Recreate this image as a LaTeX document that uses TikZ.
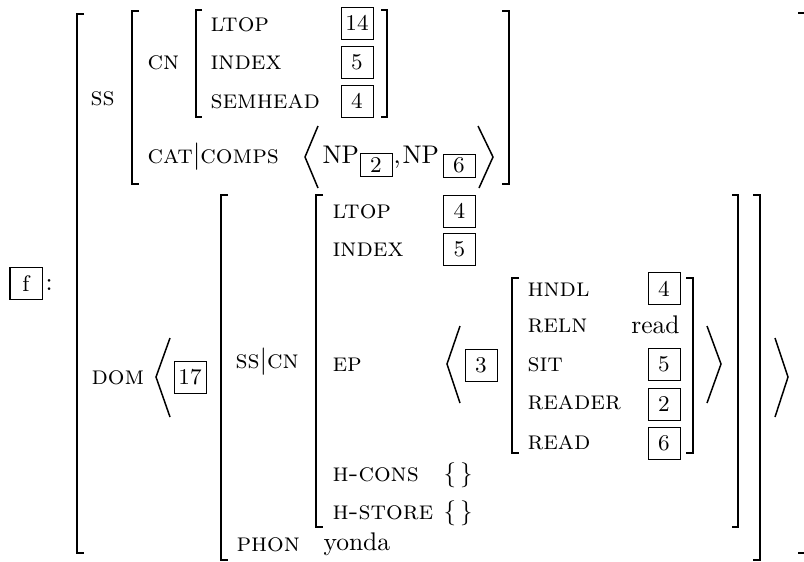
\documentclass[tikz,border=0pt]{standalone}
\usepackage{tikz}

\begin{document}
\begin{tikzpicture}[x=0.4pt,y=-0.4pt,
    font=\fontsize{10.2}{12}\selectfont,
    feat/.style={anchor=west,inner sep=0pt,font=\fontsize{10.5}{12}\selectfont\scshape},
    tag/.style={draw,line width=0.4pt,minimum width=12.8pt,minimum height=12.8pt,
      inner sep=0pt,font=\fontsize{9}{10}\selectfont},
    subtag/.style={tag,minimum height=9.2pt},
    val/.style={anchor=base west,inner sep=0pt},
    brk/.style={line width=0.8pt},
    ang/.style={line width=0.6pt}
  ]
  \useasboundingbox (0,0) rectangle (804,561);
  % tag of the whole sign
  \node[tag] (f) at (26,283.5) {f};
  \node[anchor=west,inner sep=0pt] (colon) at (45,285) {:};
  % synsem part
  \node[feat] (ss) at (90,99) {ss};
  \node[feat] (cn) at (147,63) {cn};
  \node[feat] (ltopa) at (210,25) {ltop};
  \node[feat] (indexa) at (210,63) {index};
  \node[feat] (semhead) at (210,102) {semhead};
  \node[tag] (t14) at (357,23) {14};
  \node[tag] (t5a) at (357,62.5) {5};
  \node[tag] (t4a) at (357,101) {4};
  \node[feat] (comps) at (147,157) {cat$|$comps};
  \node[val] (npa) at (322,163) {NP};
  \node[subtag] (t2a) at (376,164.5) {2};
  \node[val] (comma) at (393,163) {,};
  \node[val] (npb) at (402,163) {NP};
  \node[subtag] (t6a) at (459,165.5) {6};
  % domain list
  \node[feat] (dom) at (91,378) {dom};
  \node[tag] (t17) at (190,377.5) {17};
  \node[feat] (sscn) at (235,362) {ss$|$cn};
  \node[feat] (ltopb) at (332,212) {ltop};
  \node[feat] (indexb) at (332,250) {index};
  \node[feat] (ep) at (332,365) {ep};
  \node[feat] (hcons) at (332,475) {h-cons};
  \node[feat] (hstore) at (332,513) {h-store};
  \node[tag] (t4b) at (459.5,211) {4};
  \node[tag] (t5b) at (459.5,249.5) {5};
  \node[anchor=west,inner sep=0pt] (hconsv) at (443,475) {$\{\,\}$};
  \node[anchor=west,inner sep=0pt] (hstorev) at (443,513) {$\{\,\}$};
  \node[tag] (t3) at (481,365.5) {3};
  % elementary predication
  \node[feat] (hndl) at (527,290) {hndl};
  \node[feat] (reln) at (527,326) {reln};
  \node[feat] (sit) at (527,365) {sit};
  \node[feat] (reader) at (527,403) {reader};
  \node[feat] (read) at (527,443) {read};
  \node[tag] (t4c) at (664,288.5) {4};
  \node[anchor=base east,inner sep=0pt] (relnv) at (680,333) {read};
  \node[tag] (t5c) at (664,364.5) {5};
  \node[tag] (t2b) at (664,404) {2};
  \node[tag] (t6b) at (664,443) {6};
  \node[feat] (phon) at (236,545) {phon};
  \node[val] (phonv) at (323,550.5) {yonda};
  % brackets
  \draw[brk] (84,14) -| (77,553) -- (84,553);
  \draw[brk] (798,13) -| (806,553) -- (798,553);
  \draw[brk] (139,11) -| (132,184) -- (139,184);
  \draw[brk] (502,11) -| (509,184) -- (502,184);
  \draw[brk] (202,10) -| (196,117) -- (202,117);
  \draw[brk] (381,10) -| (387,117) -- (381,117);
  \draw[brk] (228,195) -| (221,560) -- (228,560);
  \draw[brk] (753,195) -| (760,560) -- (753,560);
  \draw[brk] (323,195) -| (316,527) -- (323,527);
  \draw[brk] (732,195) -| (738,527) -- (732,527);
  \draw[brk] (519,278) -| (512,453) -- (519,453);
  \draw[brk] (686,278) -| (693,453) -- (686,453);
  % angle brackets
  \draw[ang] (318,126) -- (305,157) -- (318,188);
  \draw[ang] (478,126) -- (493,157) -- (479,188);
  \draw[ang] (170,338) -- (156,377) -- (170,417);
  \draw[ang] (775,338) -- (788,377) -- (775,417);
  \draw[ang] (460,326) -- (447,364) -- (460,403);
  \draw[ang] (707,326) -- (721,364) -- (707,403);
\end{tikzpicture}
\end{document}
